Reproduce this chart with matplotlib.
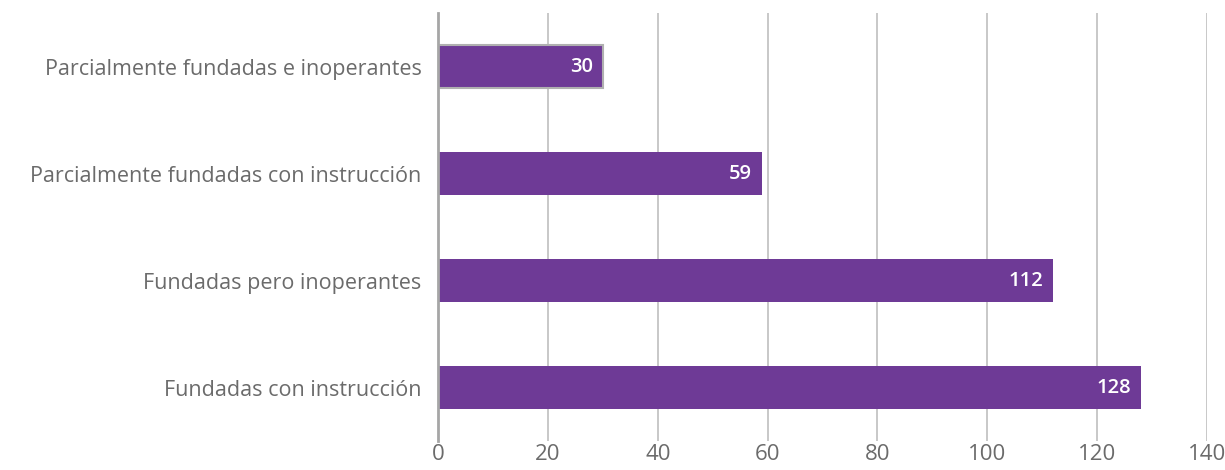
import matplotlib
matplotlib.use("Agg")
from matplotlib import pyplot as plt

# datos
categorias = ["Parcialmente fundadas e inoperantes",
              "Parcialmente fundadas con instrucción",
              "Fundadas pero inoperantes",
              "Fundadas con instrucción"]
valores = [30, 59, 112, 128]
ticks_x = [0, 20, 40, 60, 80, 100, 120, 140]

morado = "#6E3A96"
gris_txt = "#6B6B6B"
gris_linea = "#BFBFBF"

plt.rcParams["font.family"] = ["Open Sans", "DejaVu Sans"]

fig = plt.figure(figsize=(12.25, 4.70), dpi=100)
ax = fig.add_axes([0.3576, 0.0617, 0.6277, 0.9106])

pos = list(range(len(categorias)))
barras = ax.barh(pos, valores, height=0.41, color=morado, zorder=3)
# la primera barra va resaltada con borde gris
barras[0].set_edgecolor("#B0B0B0")
barras[0].set_linewidth(1.5)

for p, v in zip(pos, valores):
    ax.text(v - 1.8, p, str(v), ha="right", va="center", color="white",
            fontsize=14.5, fontweight="semibold", zorder=4)

ax.set_xlim(0, 140)
ax.set_ylim(3.5, -0.5)
ax.set_xticks(ticks_x)
ax.set_yticks(pos)
ax.set_yticklabels(categorias)

ax.grid(axis="x", color=gris_linea, linewidth=1.2, zorder=0)
ax.tick_params(axis="x", length=0, pad=2, labelsize=16, labelcolor=gris_txt)
ax.tick_params(axis="y", length=0, pad=12, labelsize=15.5, labelcolor=gris_txt)

for s in ["top", "right", "bottom"]:
    ax.spines[s].set_visible(False)
ax.spines["left"].set_color("#A6A6A6")
ax.spines["left"].set_linewidth(2)
ax.spines["left"].set_zorder(5)

plt.savefig("out.png", dpi=100)
